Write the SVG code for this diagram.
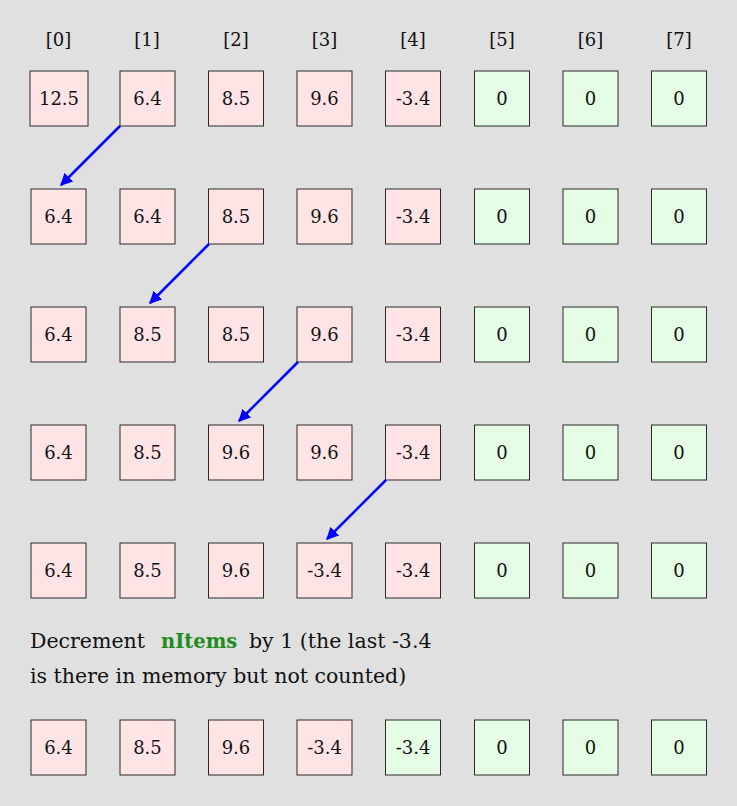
<svg xmlns="http://www.w3.org/2000/svg" width="737" height="806" viewBox="0 0 737 806">
<defs>
<style>
.bg{fill:#e0e0e0}
.p{fill:#ffe4e6;stroke:#2a2a2a;stroke-width:1}
.g{fill:#e4fde4;stroke:#2a2a2a;stroke-width:1}
text{font-family:"DejaVu Serif","Liberation Serif",serif;font-size:18px;fill:#111}
.v{text-anchor:middle}
.t{font-size:20.5px}
.a{stroke:#0000ff;stroke-width:2.5;fill:none;marker-end:url(#ah)}
.n{fill:#228b22;font-weight:bold;font-size:19.5px}
</style>
<marker id="ah" viewBox="0 0 10 10" refX="9" refY="5" markerWidth="5" markerHeight="5" orient="auto" markerUnits="strokeWidth">
<path d="M0,0 L10,5 L0,10 z" fill="#0000ff"/>
</marker>
</defs>
<rect class="bg" x="0" y="0" width="737" height="806"/>
<g id="headers">
<text class="v" x="58.5" y="46">[0]</text>
<text class="v" x="147" y="46">[1]</text>
<text class="v" x="236" y="46">[2]</text>
<text class="v" x="324.5" y="46">[3]</text>
<text class="v" x="413" y="46">[4]</text>
<text class="v" x="502" y="46">[5]</text>
<text class="v" x="590.5" y="46">[6]</text>
<text class="v" x="679" y="46">[7]</text>
</g>
<g id="row0">
<rect class="p" x="30" y="71" width="58" height="55"/><text class="v" x="59" y="105">12.5</text>
<rect class="p" x="120" y="71" width="55" height="55"/><text class="v" x="147.5" y="105">6.4</text>
<rect class="p" x="208.5" y="71" width="55" height="55"/><text class="v" x="236" y="105">8.5</text>
<rect class="p" x="297" y="71" width="55" height="55"/><text class="v" x="324.5" y="105">9.6</text>
<rect class="p" x="385.5" y="71" width="55" height="55"/><text class="v" x="413" y="105">-3.4</text>
<rect class="g" x="474.5" y="71" width="55" height="55"/><text class="v" x="502" y="105">0</text>
<rect class="g" x="563" y="71" width="55" height="55"/><text class="v" x="590.5" y="105">0</text>
<rect class="g" x="651.5" y="71" width="55" height="55"/><text class="v" x="679" y="105">0</text>
</g>
<g id="row1">
<rect class="p" x="31" y="189" width="55" height="55"/><text class="v" x="58.5" y="223">6.4</text>
<rect class="p" x="120" y="189" width="55" height="55"/><text class="v" x="147.5" y="223">6.4</text>
<rect class="p" x="208.5" y="189" width="55" height="55"/><text class="v" x="236" y="223">8.5</text>
<rect class="p" x="297" y="189" width="55" height="55"/><text class="v" x="324.5" y="223">9.6</text>
<rect class="p" x="385.5" y="189" width="55" height="55"/><text class="v" x="413" y="223">-3.4</text>
<rect class="g" x="474.5" y="189" width="55" height="55"/><text class="v" x="502" y="223">0</text>
<rect class="g" x="563" y="189" width="55" height="55"/><text class="v" x="590.5" y="223">0</text>
<rect class="g" x="651.5" y="189" width="55" height="55"/><text class="v" x="679" y="223">0</text>
</g>
<g id="row2">
<rect class="p" x="31" y="307" width="55" height="55"/><text class="v" x="58.5" y="341">6.4</text>
<rect class="p" x="120" y="307" width="55" height="55"/><text class="v" x="147.5" y="341">8.5</text>
<rect class="p" x="208.5" y="307" width="55" height="55"/><text class="v" x="236" y="341">8.5</text>
<rect class="p" x="297" y="307" width="55" height="55"/><text class="v" x="324.5" y="341">9.6</text>
<rect class="p" x="385.5" y="307" width="55" height="55"/><text class="v" x="413" y="341">-3.4</text>
<rect class="g" x="474.5" y="307" width="55" height="55"/><text class="v" x="502" y="341">0</text>
<rect class="g" x="563" y="307" width="55" height="55"/><text class="v" x="590.5" y="341">0</text>
<rect class="g" x="651.5" y="307" width="55" height="55"/><text class="v" x="679" y="341">0</text>
</g>
<g id="row3">
<rect class="p" x="31" y="425" width="55" height="55"/><text class="v" x="58.5" y="459">6.4</text>
<rect class="p" x="120" y="425" width="55" height="55"/><text class="v" x="147.5" y="459">8.5</text>
<rect class="p" x="208.5" y="425" width="55" height="55"/><text class="v" x="236" y="459">9.6</text>
<rect class="p" x="297" y="425" width="55" height="55"/><text class="v" x="324.5" y="459">9.6</text>
<rect class="p" x="385.5" y="425" width="55" height="55"/><text class="v" x="413" y="459">-3.4</text>
<rect class="g" x="474.5" y="425" width="55" height="55"/><text class="v" x="502" y="459">0</text>
<rect class="g" x="563" y="425" width="55" height="55"/><text class="v" x="590.5" y="459">0</text>
<rect class="g" x="651.5" y="425" width="55" height="55"/><text class="v" x="679" y="459">0</text>
</g>
<g id="row4">
<rect class="p" x="31" y="543" width="55" height="55"/><text class="v" x="58.5" y="577">6.4</text>
<rect class="p" x="120" y="543" width="55" height="55"/><text class="v" x="147.5" y="577">8.5</text>
<rect class="p" x="208.5" y="543" width="55" height="55"/><text class="v" x="236" y="577">9.6</text>
<rect class="p" x="297" y="543" width="55" height="55"/><text class="v" x="324.5" y="577">-3.4</text>
<rect class="p" x="385.5" y="543" width="55" height="55"/><text class="v" x="413" y="577">-3.4</text>
<rect class="g" x="474.5" y="543" width="55" height="55"/><text class="v" x="502" y="577">0</text>
<rect class="g" x="563" y="543" width="55" height="55"/><text class="v" x="590.5" y="577">0</text>
<rect class="g" x="651.5" y="543" width="55" height="55"/><text class="v" x="679" y="577">0</text>
</g>
<g id="note">
<text class="t" x="30" y="648">Decrement <tspan class="n" x="161">nItems</tspan><tspan x="249">by 1 (the last -3.4</tspan></text>
<text class="t" x="30" y="683">is there in memory but not counted)</text>
</g>
<g id="row5">
<rect class="p" x="31" y="720" width="55" height="55"/><text class="v" x="58.5" y="754">6.4</text>
<rect class="p" x="120" y="720" width="55" height="55"/><text class="v" x="147.5" y="754">8.5</text>
<rect class="p" x="208.5" y="720" width="55" height="55"/><text class="v" x="236" y="754">9.6</text>
<rect class="p" x="297" y="720" width="55" height="55"/><text class="v" x="324.5" y="754">-3.4</text>
<rect class="g" x="385.5" y="720" width="55" height="55"/><text class="v" x="413" y="754">-3.4</text>
<rect class="g" x="474.5" y="720" width="55" height="55"/><text class="v" x="502" y="754">0</text>
<rect class="g" x="563" y="720" width="55" height="55"/><text class="v" x="590.5" y="754">0</text>
<rect class="g" x="651.5" y="720" width="55" height="55"/><text class="v" x="679" y="754">0</text>
</g>
<g id="connectors">
<line class="a" x1="120" y1="126" x2="61" y2="185"/>
<line class="a" x1="209" y1="244" x2="150" y2="303"/>
<line class="a" x1="298" y1="362" x2="239" y2="421"/>
<line class="a" x1="386" y1="480" x2="327" y2="539"/>
</g>
</svg>
